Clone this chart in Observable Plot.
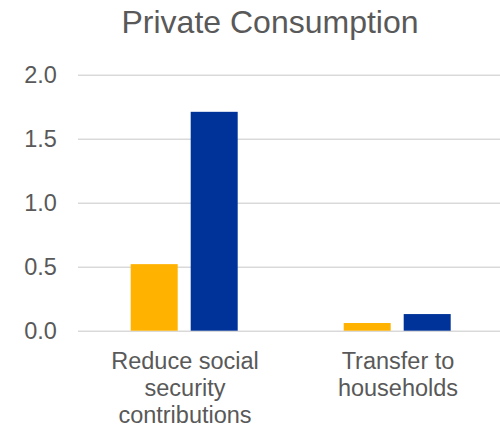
<!DOCTYPE html>
<html>
<head>
<meta charset="utf-8">
<script src="https://cdn.jsdelivr.net/npm/d3@7"></script>
<script src="https://cdn.jsdelivr.net/npm/@observablehq/plot@0.6"></script>
<style>
  body { margin: 0; background: #fff; }
  #wrap { width: 500px; height: 427px; position: relative; }
  #title { width: 460px; padding-left: 40px; height: 44px; line-height: 44px; text-align: center;
           font-family: "Liberation Sans", Arial, sans-serif; font-size: 32px; color: #595959; }
  svg { display: block; }
</style>
</head>
<body>
<div id="wrap">
  <div id="title">Private Consumption</div>
  <div id="chart"></div>
</div>
<script>
const categories = ["Reduce social security contributions", "Transfer to households"];
const categoryLabels = ["Reduce social\nsecurity\ncontributions", "Transfer to\nhouseholds"];
const series = ["Series 1", "Series 2"];
const series1Values = [0.52, 0.06];
const series2Values = [1.71, 0.13];
const yTicks = [0, 0.5, 1.0, 1.5, 2.0];
const seriesColors = ["#FFB300", "#003399"];

const data = [];
categories.forEach((c, i) => {
  data.push({category: c, series: series[0], value: series1Values[i]});
  data.push({category: c, series: series[1], value: series2Values[i]});
});
const labelMap = new Map(categories.map((c, i) => [c, categoryLabels[i]]));
const fmt = d3.format(".1f");

const chart = Plot.plot({
  width: 500,
  height: 383,
  marginTop: 30.7,
  marginBottom: 96.3,
  marginLeft: 78.3,
  marginRight: -4.3,
  style: {fontFamily: "'Liberation Sans', Arial, sans-serif", color: "#595959", fontSize: "23.5px", background: "#fff"},
  fx: {domain: categories, padding: 0, label: null},
  x: {domain: series, paddingInner: 0.219, paddingOuter: 0.864, axis: null},
  y: {domain: [0, 2], label: null},
  color: {domain: series, range: seriesColors},
  marks: [
    Plot.ruleY(yTicks, {stroke: "#d9d9d9", strokeWidth: 1.5}),
    Plot.axisY({ticks: yTicks, tickSize: 0, tickPadding: 21.6, fontSize: 23.5, tickFormat: fmt, label: null, fill: "#595959"}),
    Plot.axisFx({anchor: "bottom", tickSize: 0, tickPadding: 19, fontSize: 23.5, lineHeight: 27/23.5, tickFormat: d => labelMap.get(d), label: null, fill: "#595959"}),
    Plot.barY(data, {fx: "category", x: "series", y: "value", fill: "series"})
  ]
});
document.getElementById("chart").appendChild(chart);
</script>
</body>
</html>
